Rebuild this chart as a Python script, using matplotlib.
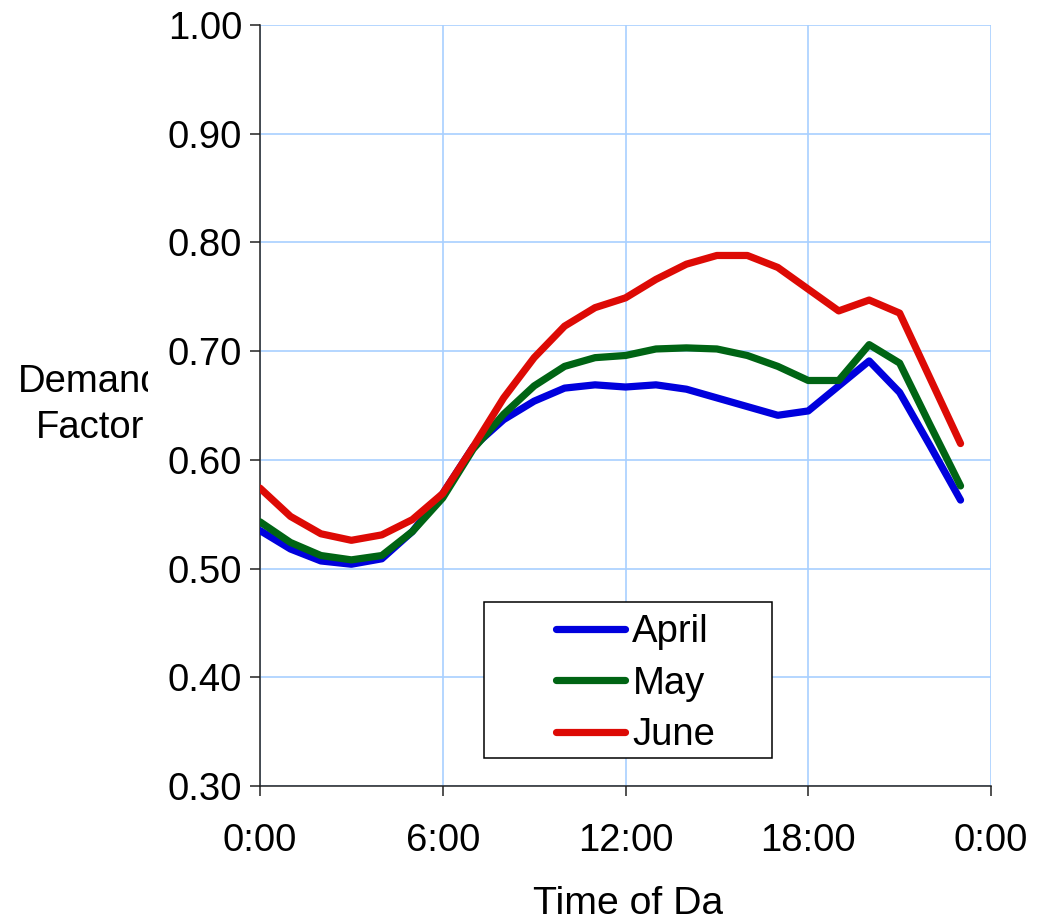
import matplotlib
matplotlib.use('Agg')
import matplotlib.pyplot as plt
from matplotlib.patches import Rectangle
from matplotlib.transforms import Bbox, TransformedBbox

plt.rcParams['font.family'] = ['Liberation Sans', 'DejaVu Sans']

hours = list(range(24))
april = [0.535, 0.518, 0.507, 0.504, 0.509, 0.534, 0.569, 0.612, 0.637, 0.654,
         0.666, 0.669, 0.667, 0.669, 0.665, 0.657, 0.649, 0.641, 0.645, 0.668,
         0.691, 0.662, 0.613, 0.563]
may = [0.543, 0.524, 0.512, 0.508, 0.512, 0.534, 0.565, 0.610, 0.642, 0.668,
       0.686, 0.694, 0.696, 0.702, 0.703, 0.702, 0.696, 0.686, 0.673, 0.673,
       0.706, 0.689, 0.632, 0.576]
june = [0.574, 0.548, 0.532, 0.526, 0.531, 0.545, 0.569, 0.612, 0.657, 0.694,
        0.723, 0.740, 0.749, 0.766, 0.780, 0.788, 0.788, 0.777, 0.757, 0.737,
        0.747, 0.735, 0.675, 0.615]
x_ticks = [0, 6, 12, 18, 24]
x_tick_labels = ['0:00', '6:00', '12:00', '18:00', '0:00']
y_ticks = [0.3, 0.4, 0.5, 0.6, 0.7, 0.8, 0.9, 1.0]

W, H = 1049, 918
FS = 27.5
fig = plt.figure(figsize=(W / 100, H / 100), dpi=100)
# axes box in pixels: x 260..991, y 25..786
ax = fig.add_axes([260 / W, 1 - 786 / H, (991 - 260) / W, (786 - 25) / H])

ax.plot(hours, april, color='#0000DD', lw=5.2, label='April', solid_capstyle='round', zorder=3)
ax.plot(hours, may, color='#006414', lw=5.2, label='May', solid_capstyle='round', zorder=3)
ax.plot(hours, june, color='#DD0A05', lw=5.2, label='June', solid_capstyle='round', zorder=3)

ax.set_xlim(0, 24)
ax.set_ylim(0.3, 1.0)
ax.set_xticks(x_ticks)
ax.set_xticklabels(x_tick_labels)
ax.set_yticks(y_ticks)
ax.set_yticklabels(['%.2f' % v for v in y_ticks])
ax.grid(True, color='#A8D0FF', lw=1.2, zorder=0)
ax.set_axisbelow(True)
for side in ['top', 'right']:
    ax.spines[side].set_visible(False)
for side in ['left', 'bottom']:
    ax.spines[side].set_color('#222222')
    ax.spines[side].set_linewidth(1.1)
ax.tick_params(axis='y', direction='out', length=7.2, width=1.1, color='#222222', pad=5.5, labelsize=FS)
ax.tick_params(axis='x', direction='out', length=7.2, width=1.1, color='#222222', pad=19.4, labelsize=FS)

# legend frame (box 484..772 x 602..758 px) and frameless legend inside it
frame = Rectangle(((484 - 260) / (991 - 260), (786 - 758) / (786 - 25)),
                  (772 - 484) / (991 - 260), (758 - 602) / (786 - 25),
                  transform=ax.transAxes, facecolor='white', edgecolor='black',
                  lw=1.1, zorder=2.5)
ax.add_patch(frame)
leg = ax.legend(loc='upper left', bbox_to_anchor=((556 - 260) / (991 - 260), (786 - 614) / (786 - 25)),
                fontsize=FS, frameon=False, handlelength=1.8, handletextpad=0.2,
                labelspacing=0.41, borderaxespad=0, borderpad=0)
leg.set_zorder(4)

ylab_clip = TransformedBbox(Bbox([[0, 0], [148 / W, 1]]), fig.transFigure)
for label, base in [('Demand', 392), ('Factor', 438)]:
    fig.text(90 / W, 1 - base / H, label, ha='center', va='baseline', fontsize=FS,
             clip_on=True, clip_box=ylab_clip)
xlab_clip = TransformedBbox(Bbox([[0, 0], [723 / W, 1]]), fig.transFigure)
fig.text(533 / W, 1 - 914 / H, 'Time of Day', ha='left', va='baseline', fontsize=28.3,
         clip_on=True, clip_box=xlab_clip)

fig.savefig('out.png', dpi=100)
